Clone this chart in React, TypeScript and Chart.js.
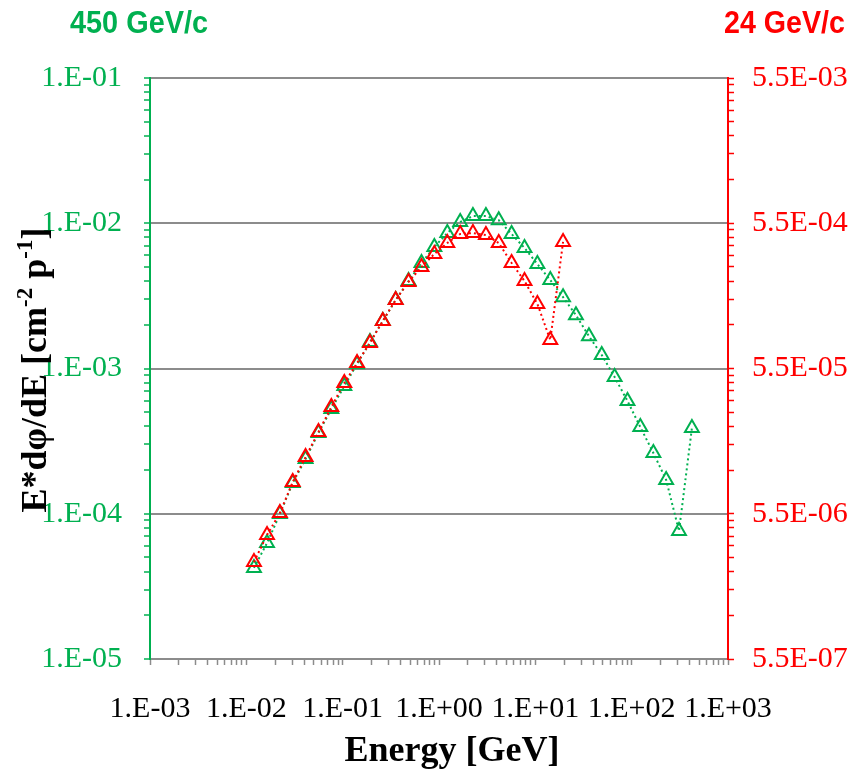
import React, { useEffect, useRef } from "react";
import { Chart, registerables } from "chart.js";

Chart.register(...registerables);

// Energy bins [GeV]
const energies = [
  0.0120, 0.0164, 0.0223, 0.0303, 0.0412, 0.0561, 0.0763, 0.104, 0.141, 0.192,
  0.261, 0.355, 0.483, 0.658, 0.895, 1.22, 1.66, 2.25, 3.07, 4.17,
  5.67, 7.72, 10.5, 14.3, 19.4, 26.4, 36.0, 48.9, 66.5, 90.5,
  123, 168, 228, 310, 422,
];

// 450 GeV/c (left axis)
const flux450 = [
  4.24e-5, 6.29e-5, 9.95e-5, 1.63e-4, 2.38e-4, 3.6e-4, 5.26e-4, 7.58e-4, 1.07e-3, 1.52e-3,
  2.12e-3, 2.96e-3, 4.0e-3, 5.32e-3, 6.87e-3, 8.57e-3, 1.02e-2, 1.12e-2, 1.12e-2, 1.05e-2,
  8.43e-3, 6.76e-3, 5.24e-3, 4.06e-3, 3.1e-3, 2.33e-3, 1.67e-3, 1.24e-3, 8.74e-4, 5.97e-4,
  3.95e-4, 2.62e-4, 1.71e-4, 7.61e-5, 3.89e-4,
];

// 24 GeV/c (right axis)
const flux24 = [
  2.56e-6, 3.93e-6, 5.56e-6, 9.1e-6, 1.35e-5, 2.01e-5, 2.99e-5, 4.37e-5, 6.0e-5, 8.24e-5,
  1.17e-4, 1.63e-4, 2.17e-4, 2.75e-4, 3.38e-4, 4.02e-4, 4.64e-4, 4.71e-4, 4.56e-4, 4.02e-4,
  2.93e-4, 2.2e-4, 1.53e-4, 8.64e-5, 4.09e-4,
];

const seriesLabels = ["450 GeV/c", "24 GeV/c"];
const xTitle = "Energy [GeV]";

const GREEN = "#00b050";
const RED = "#ff0000";
const GRAY = "#8c8c8c";

const xMin = 1e-3, xMax = 1e3;
const yMin = 1e-5, yMax = 1e-1;
const y2Base = 5.5;
const y2MinExp = -7, y2MaxExp = -3;

function fmtExp(s: string, addDot: boolean) {
  const [m, e] = s.split("e");
  const sign = e[0] === "-" ? "-" : "+";
  const d = e.replace(/[+-]/, "").padStart(2, "0");
  return m + (addDot ? "." : "") + "E" + sign + d;
}

function isDecade(v: number, base = 1) {
  const l = Math.log10(v / base);
  return Math.abs(l - Math.round(l)) < 1e-6;
}

function logTicks(minExp: number, maxExp: number, base: number) {
  const out: { value: number; major: boolean }[] = [];
  for (let n = minExp; n <= maxExp; n++) {
    for (let k = 1; k <= 9; k++) {
      if (n === maxExp && k > 1) break;
      out.push({ value: base * k * Math.pow(10, n), major: k === 1 });
    }
  }
  return out;
}

const titlesPlugin = {
  id: "customTitles",
  afterDraw(chart: any) {
    const ctx = chart.ctx;
    ctx.save();
    // top series titles
    ctx.font = "bold 32px 'Liberation Sans', Arial, sans-serif";
    ctx.textBaseline = "alphabetic";
    ctx.fillStyle = GREEN;
    ctx.textAlign = "left";
    ctx.fillText(seriesLabels[0], 70, 33, 138);
    ctx.fillStyle = RED;
    ctx.textAlign = "right";
    ctx.fillText(seriesLabels[1], 845, 33, 121);

    // x title
    ctx.fillStyle = "#000";
    ctx.textAlign = "center";
    ctx.font = "bold 36px 'Liberation Serif', 'Times New Roman', serif";
    ctx.fillText(xTitle, 452, 761);

    // y title with superscripts
    const segs = [
      { t: "E*dφ/dE [cm", size: 36, dy: 0 },
      { t: "-2", size: 23, dy: -14 },
      { t: " p", size: 36, dy: 0 },
      { t: "-1", size: 23, dy: -14 },
      { t: "]", size: 36, dy: 0 },
    ];
    let total = 0;
    const widths = segs.map((s) => {
      ctx.font = `bold ${s.size}px 'Liberation Serif', 'Times New Roman', serif`;
      const w = ctx.measureText(s.t).width;
      total += w;
      return w;
    });
    ctx.translate(46, 370);
    ctx.rotate(-Math.PI / 2);
    ctx.textAlign = "left";
    let x = -total / 2;
    segs.forEach((s, i) => {
      ctx.font = `bold ${s.size}px 'Liberation Serif', 'Times New Roman', serif`;
      ctx.fillText(s.t, x, s.dy);
      x += widths[i];
    });
    ctx.restore();
  },
};

export default function App() {
  const ref = useRef<HTMLCanvasElement | null>(null);

  useEffect(() => {
    if (!ref.current) return;
    const tickFont = { family: "'Liberation Serif', 'Times New Roman', serif", size: 30 };
    const chart = new Chart(ref.current, {
      type: "line",
      data: {
        datasets: [
          {
            label: seriesLabels[1],
            data: flux24.map((v, i) => ({ x: energies[i], y: v })),
            yAxisID: "y2",
            borderColor: RED,
            backgroundColor: "transparent",
            borderWidth: 2,
            borderDash: [2, 3],
            pointStyle: "triangle",
            pointRadius: 8,
            pointBorderWidth: 2,
            pointBorderColor: RED,
            pointBackgroundColor: "transparent",
            tension: 0,
          },
          {
            label: seriesLabels[0],
            data: flux450.map((v, i) => ({ x: energies[i], y: v })),
            yAxisID: "y",
            borderColor: GREEN,
            backgroundColor: "transparent",
            borderWidth: 2,
            borderDash: [2, 3],
            pointStyle: "triangle",
            pointRadius: 8,
            pointBorderWidth: 2,
            pointBorderColor: GREEN,
            pointBackgroundColor: "transparent",
            tension: 0,
          },
        ],
      },
      options: {
        responsive: false,
        animation: false,
        devicePixelRatio: 1,
        layout: { padding: { top: 78, left: 0, right: 0, bottom: 0 } },
        plugins: {
          legend: { display: false },
          tooltip: { enabled: false },
          title: { display: false },
        },
        scales: {
          x: {
            type: "logarithmic",
            position: "bottom",
            min: xMin,
            max: xMax,
            afterBuildTicks: (axis: any) => {
              axis.ticks = logTicks(-3, 3, 1);
            },
            afterFit: (axis: any) => {
              axis.height = 114;
            },
            ticks: {
              autoSkip: false,
              maxRotation: 0,
              minRotation: 0,
              padding: 26,
              color: "#000",
              font: tickFont,
              callback: (v: any) => (isDecade(Number(v)) ? fmtExp(Number(v).toExponential(0), true) : ""),
            },
            grid: {
              drawOnChartArea: false,
              drawTicks: true,
              tickLength: 6,
              tickColor: GRAY,
              tickWidth: 1.5,
            },
            border: { color: GRAY, width: 2 },
          },
          y: {
            type: "logarithmic",
            position: "left",
            min: yMin,
            max: yMax,
            afterBuildTicks: (axis: any) => {
              axis.ticks = logTicks(-5, -1, 1);
            },
            afterFit: (axis: any) => {
              axis.width = 150;
            },
            ticks: {
              autoSkip: false,
              padding: 22,
              color: GREEN,
              font: tickFont,
              callback: (v: any) => (isDecade(Number(v)) ? fmtExp(Number(v).toExponential(0), true) : ""),
            },
            grid: {
              drawOnChartArea: true,
              color: (c: any) => (c.tick && isDecade(c.tick.value) ? GRAY : "rgba(0,0,0,0)"),
              lineWidth: 2,
              tickLength: 6,
              tickColor: GREEN,
              tickWidth: 1.5,
            },
            border: { color: GREEN, width: 2 },
          },
          y2: {
            type: "logarithmic",
            position: "right",
            min: y2Base * Math.pow(10, y2MinExp),
            max: y2Base * Math.pow(10, y2MaxExp),
            afterBuildTicks: (axis: any) => {
              axis.ticks = logTicks(y2MinExp, y2MaxExp, y2Base);
            },
            afterFit: (axis: any) => {
              axis.width = 134;
            },
            ticks: {
              autoSkip: false,
              padding: 18,
              color: RED,
              font: tickFont,
              callback: (v: any) =>
                isDecade(Number(v), y2Base) ? fmtExp(Number(v).toExponential(1), false) : "",
            },
            grid: {
              drawOnChartArea: false,
              tickLength: 6,
              tickColor: RED,
              tickWidth: 1.5,
            },
            border: { color: RED, width: 2 },
          },
        },
      } as any,
      plugins: [titlesPlugin],
    });
    return () => chart.destroy();
  }, []);

  return (
    <div style={{ position: "fixed", left: 0, top: 0, width: 862, height: 773, background: "#fff" }}>
      <canvas ref={ref} width={862} height={773} style={{ display: "block" }} />
    </div>
  );
}
